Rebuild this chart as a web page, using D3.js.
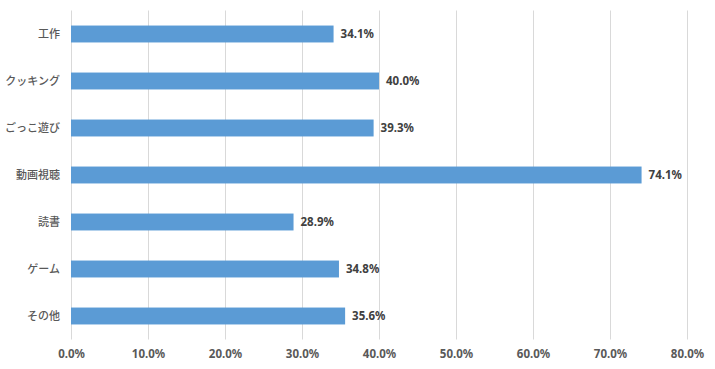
<!DOCTYPE html>
<html>
<head>
<meta charset="utf-8">
<script src="https://cdn.jsdelivr.net/npm/d3@7"></script>
<style>
  body { margin: 0; background: #fff; }
</style>
</head>
<body>
<svg></svg>
<script>
const categories = ["工作", "クッキング", "ごっこ遊び", "動画視聴", "読書", "ゲーム", "その他"];
const values = [34.1, 40.0, 39.3, 74.1, 28.9, 34.8, 35.6];
const tickValues = [0, 10, 20, 30, 40, 50, 60, 70, 80];

const width = 715;
const height = 369;
const plotLeft = 71;
const plotRight = 687;
const plotTop = 10.5;
const plotBottom = 339.5;

const svg = d3.select("svg").attr("width", width).attr("height", height);

const xScale = d3.scaleLinear().domain([0, 80]).range([plotLeft, plotRight]);
const yScale = d3
  .scaleBand()
  .domain(categories)
  .range([plotTop, plotBottom])
  .paddingInner(0.64)
  .paddingOuter(0.32);

// gridlines
svg
  .append("g")
  .selectAll("line")
  .data(tickValues)
  .enter()
  .append("line")
  .attr("x1", (d) => Math.round(xScale(d)) + 0.5)
  .attr("x2", (d) => Math.round(xScale(d)) + 0.5)
  .attr("y1", plotTop)
  .attr("y2", plotBottom)
  .attr("stroke", "#d9d9d9")
  .attr("stroke-width", 1);

// bars
svg
  .append("g")
  .selectAll("rect")
  .data(values)
  .enter()
  .append("rect")
  .attr("x", xScale(0))
  .attr("y", (d, i) => yScale(categories[i]))
  .attr("width", (d) => xScale(d) - xScale(0))
  .attr("height", yScale.bandwidth())
  .attr("fill", "#5b9bd5");

// value labels
svg
  .append("g")
  .selectAll("text")
  .data(values)
  .enter()
  .append("text")
  .attr("x", (d) => xScale(d) + 7)
  .attr("y", (d, i) => yScale(categories[i]) + yScale.bandwidth() / 2)
  .attr("dy", "0.35em")
  .attr("font-family", "'Liberation Sans Narrow', 'Noto Sans', sans-serif")
  .attr("font-weight", "bold")
  .attr("font-size", "11.5px")
  .attr("fill", "#404040")
  .text((d) => d.toFixed(1) + "%");

// y axis
const yAxis = d3.axisLeft(yScale).tickSize(0).tickPadding(11);
const yG = svg.append("g").attr("transform", `translate(${plotLeft}, 0)`).call(yAxis);
yG.select(".domain").remove();
yG.selectAll("text")
  .attr("font-family", "'Noto Sans CJK JP', sans-serif")
  .attr("font-weight", "500")
  .attr("font-size", "11px")
  .attr("fill", "#595959");

// x axis
const xAxis = d3
  .axisBottom(xScale)
  .tickValues(tickValues)
  .tickSize(0)
  .tickPadding(10)
  .tickFormat((d) => d.toFixed(1) + "%");
const xG = svg.append("g").attr("transform", `translate(0, ${plotBottom})`).call(xAxis);
xG.select(".domain").remove();
xG.selectAll("text")
  .attr("font-family", "'Liberation Sans Narrow', 'Noto Sans', sans-serif")
  .attr("font-weight", "bold")
  .attr("font-size", "11.5px")
  .attr("fill", "#595959");
</script>
</body>
</html>
